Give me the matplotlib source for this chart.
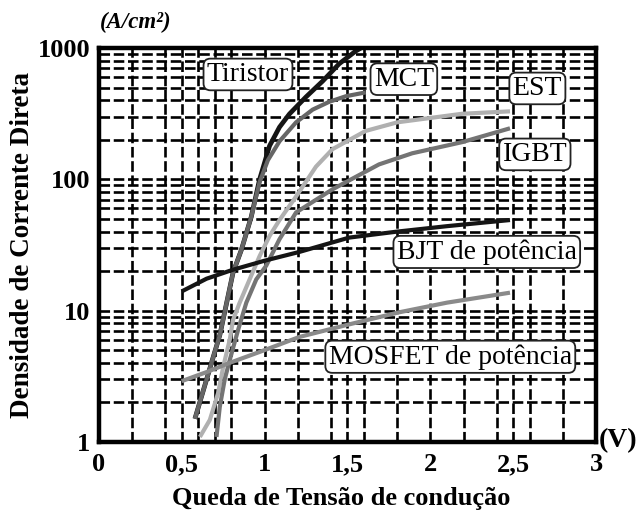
import matplotlib
matplotlib.use("Agg")
import matplotlib.pyplot as plt
from matplotlib.ticker import FixedLocator, LogLocator, NullFormatter

# ---- data ----
tir_x = [0.58, 0.68, 0.73, 0.81, 0.86, 0.92, 0.97, 1.03, 1.09, 1.15, 1.25, 1.35, 1.45, 1.55, 1.58]
tir_y = [1.5, 4, 6.5, 19.5, 29, 52, 100, 180, 250, 315, 425, 560, 760, 950, 1000]

mct_x = [0.58, 0.68, 0.73, 0.81, 0.86, 0.92, 0.97, 1.02, 1.09, 1.19, 1.29, 1.39, 1.49, 1.61]
mct_y = [1.5, 4, 6.5, 19.5, 29, 52, 95, 140, 195, 272, 340, 390, 430, 460]

est_x = [0.61, 0.67, 0.72, 0.75, 0.79, 0.81, 0.85, 0.91, 0.97, 1.03, 1.09, 1.19,
         1.31, 1.41, 1.61, 1.80, 2.19, 2.48]
est_y = [1.09, 1.47, 2.36, 3.7, 6.0, 8.5, 11.5, 17.3, 26, 37, 49, 74,
         125, 170, 234, 272, 316, 330]

igbt_x = [0.71, 0.73, 0.76, 0.79, 0.84, 0.89, 0.95, 1.01, 1.09, 1.19, 1.41, 1.69,
          1.89, 2.19, 2.48]
igbt_y = [1.09, 1.85, 3.0, 4.2, 7.1, 11.5, 17.3, 22, 35, 56, 84, 130,
          158, 192, 245]

bjt_x = [0.50, 0.65, 0.81, 1.00, 1.21, 1.51, 1.80, 2.10, 2.48]
bjt_y = [14, 17.5, 20.5, 24, 28, 36, 40, 44, 49]

mos_x = [0.50, 0.65, 0.79, 1.00, 1.21, 1.50, 1.81, 2.10, 2.48]
mos_y = [2.9, 3.4, 4.0, 5.0, 6.3, 7.8, 9.7, 11.5, 13.7]

x_major = [0, 0.5, 1, 1.5, 2, 2.5, 3]
x_major_labels = ["0", "0,5", "1", "1,5", "2", "2,5", "3"]
x_grid = [0.2, 0.4, 0.5, 0.6, 0.7, 0.8, 1.0, 1.2, 1.4, 1.5, 1.6, 1.8,
          2.0, 2.2, 2.4, 2.5, 2.6, 2.8]
y_major = [1, 10, 100, 1000]
y_major_labels = ["1", "10", "100", "1000"]

labels = ["Tiristor", "MCT", "EST", "IGBT", "BJT de potência", "MOSFET de potência"]
label_pos = [(0.90, 630), (1.84, 580), (2.645, 493), (2.63, 155), (2.34, 28), (2.12, 4.45)]

SERIF = ['Liberation Serif', 'DejaVu Serif']
plt.rcParams['font.family'] = SERIF

fig = plt.figure(figsize=(6.37, 5.12), dpi=100)
ax = fig.add_axes([0.155, 0.137, 0.781, 0.769])
ax.set_yscale('log')
ax.set_xlim(0, 3)
ax.set_ylim(1, 1000)

# grid
ax.xaxis.set_major_locator(FixedLocator(x_major))
ax.xaxis.set_minor_locator(FixedLocator(x_grid))
ax.set_xticklabels(x_major_labels)
ax.yaxis.set_major_locator(FixedLocator(y_major))
ax.yaxis.set_minor_locator(LogLocator(base=10, subs=range(2, 10)))
ax.yaxis.set_minor_formatter(NullFormatter())
ax.set_yticklabels(y_major_labels)
for xv in x_grid:
    ax.axvline(xv, color='black', lw=1.9, ls=(0, (4, 1.4)), zorder=1)
ax.grid(True, which='both', axis='y', color='black', lw=1.9, ls=(0, (4, 1.4)), zorder=1)
ax.tick_params(which='both', length=0)
ax.tick_params(axis='x', labelsize=19, pad=8)
ax.tick_params(axis='y', labelsize=19, pad=6)
for t in ax.get_xticklabels() + ax.get_yticklabels():
    t.set_fontweight('bold')
    t.set_family(SERIF)

for s in ax.spines.values():
    s.set_linewidth(3.2)
    s.set_zorder(5)

# curves
ax.plot(tir_x, tir_y, color='#151515', lw=3.4, zorder=3, solid_capstyle='butt')
ax.plot(mct_x, mct_y, color='#666666', lw=3.0, zorder=3, solid_capstyle='butt')
ax.plot(est_x, est_y, color='#b0b0b0', lw=3.0, zorder=3, solid_capstyle='butt')
ax.plot(igbt_x, igbt_y, color='#747474', lw=3.0, zorder=3, solid_capstyle='butt')
ax.plot(bjt_x, bjt_y, color='#151515', lw=3.0, zorder=3, solid_capstyle='butt')
ax.plot(mos_x, mos_y, color='#8a8a8a', lw=3.0, zorder=3, solid_capstyle='butt')

for txt, (lx, ly) in zip(labels, label_pos):
    ax.text(lx, ly, txt, fontsize=20, ha='center', va='center', zorder=6,
            family=SERIF,
            bbox=dict(boxstyle='round,pad=0.12,rounding_size=0.25', fc='white',
                      ec='#222222', lw=1.3))

ax.set_xlabel("Queda de Tensão de condução", fontsize=19, fontweight='bold',
              family=SERIF)
ax.xaxis.set_label_coords(0.487, -0.115)
ax.set_ylabel("Densidade de Corrente Direta", fontsize=19.5, fontweight='bold',
              family=SERIF)
ax.yaxis.set_label_coords(-0.128, 0.5)

fig.text(0.157, 0.957, "(A/cm²)", fontsize=16.5, fontweight='bold', style='italic',
         ha='left', va='center', family=SERIF)
fig.text(0.940, 0.14, "(V)", fontsize=20, fontweight='bold', ha='left', va='center',
         family=SERIF)

fig.savefig("out.png", dpi=100)
